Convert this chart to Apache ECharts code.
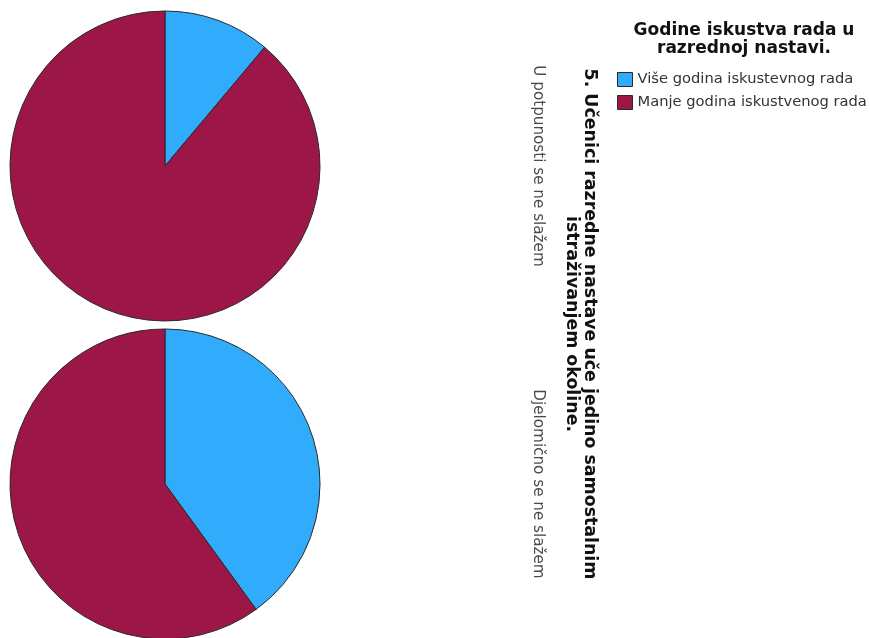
<!DOCTYPE html>
<html>
<head>
<meta charset="utf-8">
<script src="https://cdn.jsdelivr.net/npm/echarts@6/dist/echarts.min.js"></script>
<style>html,body{margin:0;padding:0;background:#fff;}#c{width:870px;height:638px;}</style>
</head>
<body>
<div id="c"></div>
<script>
const categories = ['U potpunosti se ne slažem', 'Djelomično se ne slažem'];
const groups = ['Više godina iskustevnog rada', 'Manje godina iskustvenog rada'];
const moreYears = [1, 2];
const lessYears = [8, 3];
const colors = ['#31acfc', '#9c1748'];
const chartTitle = '5. Učenici razredne nastave uče jedino samostalnim\nistraživanjem okoline.';
const legendTitle = 'Godine iskustva rada u\nrazrednoj nastavi.';

const centers = [[165, 166], [165, 484]];
const chart = echarts.init(document.getElementById('c'), null, {renderer: 'canvas'});

const series = categories.map((cat, i) => ({
  type: 'pie',
  name: cat,
  center: centers[i],
  radius: 155,
  startAngle: 90,
  clockwise: true,
  avoidLabelOverlap: false,
  label: {show: false},
  labelLine: {show: false},
  emphasis: {disabled: true},
  itemStyle: {borderColor: '#2a2a2a', borderWidth: 1},
  data: [
    {name: groups[0], value: moreYears[i]},
    {name: groups[1], value: lessYears[i]}
  ]
}));

const graphics = categories.map((cat, i) => ({
  type: 'text',
  x: 538,
  y: centers[i][1],
  rotation: -Math.PI / 2,
  style: {
    text: cat,
    align: 'center',
    verticalAlign: 'middle',
    fontFamily: 'DejaVu Sans',
    fontSize: 15.2,
    fill: '#4a4a4a'
  }
}));
graphics.push({
  type: 'text',
  x: 581,
  y: 324,
  rotation: -Math.PI / 2,
  style: {
    text: chartTitle,
    align: 'center',
    verticalAlign: 'middle',
    fontFamily: 'DejaVu Sans',
    fontWeight: 'bold',
    fontSize: 17.4,
    lineHeight: 18,
    fill: '#111'
  }
});
graphics.push({
  type: 'text',
  x: 744,
  y: 40,
  style: {
    text: legendTitle,
    align: 'center',
    verticalAlign: 'middle',
    fontFamily: 'DejaVu Sans',
    fontWeight: 'bold',
    fontSize: 17,
    lineHeight: 18,
    fill: '#111'
  }
});

chart.setOption({
  animation: false,
  color: colors,
  legend: {
    orient: 'vertical',
    left: 617,
    top: 72,
    itemWidth: 15,
    itemHeight: 14,
    itemGap: 8,
    icon: 'rect',
    padding: 0,
    selectedMode: false,
    itemStyle: {borderColor: '#2a2a2a', borderWidth: 1},
    textStyle: {fontFamily: 'DejaVu Sans', fontSize: 14.7, color: '#333'},
    data: groups
  },
  series: series,
  graphic: graphics
});
</script>
</body>
</html>
